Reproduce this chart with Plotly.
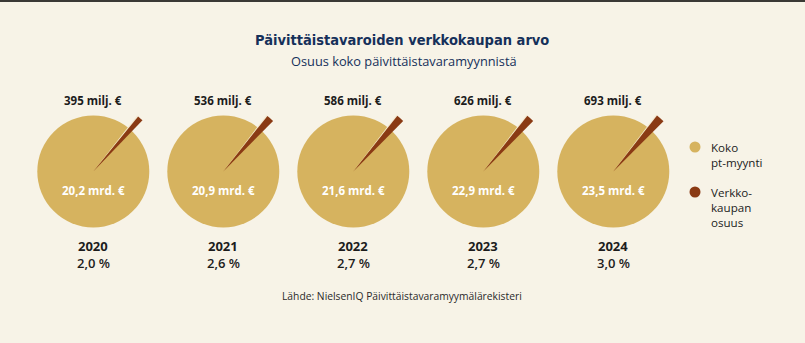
import plotly.graph_objects as go

# ---------------- data ----------------
years = ["2020", "2021", "2022", "2023", "2024"]
total_sales_labels = ["20,2 mrd. €", "20,9 mrd. €", "21,6 mrd. €", "22,9 mrd. €", "23,5 mrd. €"]
online_sales_labels = ["395 milj. €", "536 milj. €", "586 milj. €", "626 milj. €", "693 milj. €"]
online_share = [2.0, 2.6, 2.7, 2.7, 3.0]          # % of total grocery sales
share_labels = ["2,0 %", "2,6 %", "2,7 %", "2,7 %", "3,0 %"]
legend_labels = ["Koko<br>pt-myynti", "Verkko-<br>kaupan<br>osuus"]

title_text = "Päivittäistavaroiden verkkokaupan arvo"
subtitle_text = "Osuus koko päivittäistavaramyynnistä"
source_text = "Lähde: NielsenIQ Päivittäistavaramyymälärekisteri"

# ---------------- style ----------------
W, H = 805, 343
BG = "#f7f3e7"
GOLD = "#d6b35f"
BROWN = "#8a3a14"
HIGHLIGHT = "#f4ead2"
NAVY = "#15305a"
DARK = "#1c1c1c"
BODY_FONT = "Open Sans, Noto Sans, sans-serif"
TITLE_FONT = "Liberation Sans Narrow, DejaVu Sans Condensed, sans-serif"

cx0, dx = 93.3, 130.0     # pie centre positions (px)
cy = 171.5
R = 56.0                  # radius of the total-sales pie
R_SLIVER = 71.0           # radius of the online-share sliver
SLIVER_DIR = 41.5         # direction of sliver, degrees clockwise from 12 o'clock
SLIVER_WIDTH_SCALE = 0.65 # the original draws the wedges narrower than their true share
EDGE = 0.3                # thin light edge on the sliver (percent of circle)


def px_dom(cx, cy, r):
    return dict(x=[(cx - r) / W, (cx + r) / W], y=[1 - (cy + r) / H, 1 - (cy - r) / H])


def fx(px):
    return px / W


def fy(py):
    return 1 - py / H


fig = go.Figure()
annotations = []

for i, yr in enumerate(years):
    cx = cx0 + i * dx
    # full circle: total sales
    fig.add_trace(go.Pie(
        values=[100.0], labels=["Koko pt-myynti"],
        marker=dict(colors=[GOLD], line=dict(width=0)),
        textinfo="none", hoverinfo="skip", sort=False, showlegend=False,
        domain=px_dom(cx, cy, R),
    ))
    # online sliver, drawn as a longer wedge with a light leading edge
    s = online_share[i] * SLIVER_WIDTH_SCALE
    fig.add_trace(go.Pie(
        values=[EDGE, s, 100.0 - s - EDGE], labels=["reuna", "Verkkokaupan osuus", "muu"],
        marker=dict(colors=[HIGHLIGHT, BROWN, "rgba(0,0,0,0)"], line=dict(width=0)),
        textinfo="none", hoverinfo="skip", sort=False, showlegend=False,
        direction="clockwise", rotation=SLIVER_DIR - s * 3.6 / 2 - EDGE * 3.6,
        domain=px_dom(cx, cy, R_SLIVER),
    ))
    annotations += [
        dict(x=fx(cx), y=fy(101), text=f"<b>{online_sales_labels[i]}</b>",
             font=dict(family=BODY_FONT, size=11.5, color=DARK)),
        dict(x=fx(cx), y=fy(190), text=f"<b>{total_sales_labels[i]}</b>",
             font=dict(family=BODY_FONT, size=11.5, color="#ffffff")),
        dict(x=fx(cx), y=fy(246), text=f"<b>{yr}</b>",
             font=dict(family=BODY_FONT, size=13, color=DARK)),
        dict(x=fx(cx), y=fy(263), text=share_labels[i],
             font=dict(family=BODY_FONT, size=13, color=DARK, weight=600)),
    ]

# titles & source
annotations += [
    dict(x=fx(402), y=fy(40), text=f"<b>{title_text}</b>",
         font=dict(family=TITLE_FONT, size=14.5, color=NAVY)),
    dict(x=fx(404), y=fy(61), text=subtitle_text,
         font=dict(family=BODY_FONT, size=12.8, color=NAVY)),
    dict(x=fx(402), y=fy(296), text=source_text,
         font=dict(family=BODY_FONT, size=10.3, color="#2a2a2a")),
]

# legend (circles + text)
legend_colors = [GOLD, BROWN]
legend_y = [146, 191]
shapes = []
for lab, col, ly in zip(legend_labels, legend_colors, legend_y):
    shapes.append(dict(type="circle", xref="paper", yref="paper",
                       x0=fx(689.5), x1=fx(700.5), y0=fy(ly + 6.5), y1=fy(ly - 4.5),
                       fillcolor=col, line=dict(width=0)))
    annotations.append(dict(x=fx(709), y=fy(ly - 8), text=lab, xanchor="left", yanchor="top",
                            align="left",
                            font=dict(family=BODY_FONT, size=11.6, color=DARK)))

# top border line
shapes.append(dict(type="line", xref="paper", yref="paper", x0=0, x1=1, y0=fy(1), y1=fy(1),
                   line=dict(color="#3a3935", width=2)))

for a in annotations:
    a.setdefault("xref", "paper")
    a.setdefault("yref", "paper")
    a.setdefault("showarrow", False)
    a.setdefault("xanchor", "center")
    a.setdefault("yanchor", "middle")

fig.update_layout(
    width=W, height=H,
    margin=dict(l=0, r=0, t=0, b=0),
    paper_bgcolor=BG, plot_bgcolor=BG,
    annotations=annotations, shapes=shapes,
    showlegend=False,
)

fig.write_html("out.html")
